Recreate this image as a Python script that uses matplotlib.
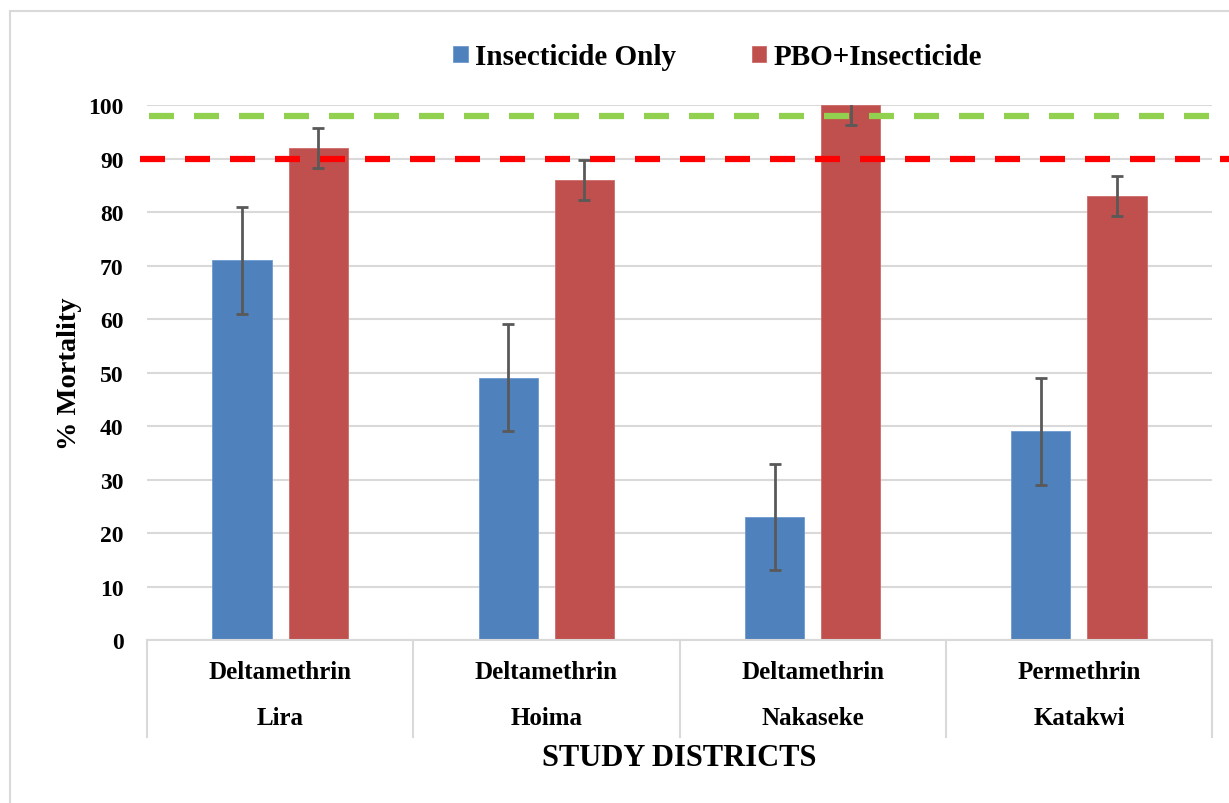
import matplotlib.pyplot as plt
from matplotlib.patches import Rectangle
import matplotlib.transforms as mtransforms
import numpy as np

plt.rcParams['font.family'] = ['Liberation Serif', 'DejaVu Serif']
plt.rcParams['font.weight'] = 'bold'

# Datos de mortalidad por distrito
insecticidas = ['Deltamethrin', 'Deltamethrin', 'Deltamethrin', 'Permethrin']
distritos = ['Lira', 'Hoima', 'Nakaseke', 'Katakwi']
solo_insecticida = [71, 49, 23, 39]
solo_insecticida_err = [10, 10, 10, 10]
pbo_insecticida = [92, 86, 100, 83]
pbo_insecticida_err = [3.8, 3.8, 3.8, 3.8]
umbral_verde = 98
umbral_rojo = 90

azul = '#4F81BD'
rojo = '#C0504D'
gris = '#D9D9D9'

fig = plt.figure(figsize=(12.29, 8.04), dpi=100)
ax = fig.add_axes([0.1196, 0.2027, 0.8666, 0.6653])

# Marco exterior
fig.patches.append(Rectangle((10 / 1229, -0.05), 1.1, 1 - 12 / 804 + 0.05,
                             transform=fig.transFigure, fill=False,
                             edgecolor=gris, linewidth=1.5))

x = np.arange(len(distritos))
ancho = 0.222
desp = 0.143

ax.yaxis.grid(True, color=gris, linewidth=1.5, zorder=0)
ax.set_axisbelow(True)

ax.bar(x - desp, solo_insecticida, ancho, color=azul, edgecolor='#6F9AD0',
       linewidth=0.6, label='Insecticide Only', zorder=2)
ax.bar(x + desp, pbo_insecticida, ancho, color=rojo, edgecolor='#CC6B68',
       linewidth=0.6, label='PBO+Insecticide', zorder=2)

err_kw = dict(fmt='none', ecolor='#595959', elinewidth=2, capsize=4,
              capthick=2, zorder=3)
ax.errorbar(x - desp, solo_insecticida, yerr=solo_insecticida_err, **err_kw)
ax.errorbar(x + desp, pbo_insecticida, yerr=pbo_insecticida_err, **err_kw)

# Líneas de umbral (98% y 90%)
trans_h = mtransforms.blended_transform_factory(ax.transAxes, ax.transData)
ax.plot([0.002, 1.03], [umbral_verde, umbral_verde], transform=trans_h,
        color='#92D050', linewidth=4.5, dashes=(4.0, 3.2), clip_on=False, zorder=4)
ax.plot([-0.007, 1.03], [umbral_rojo, umbral_rojo], transform=trans_h,
        color='#FF0000', linewidth=4.5, dashes=(4.0, 3.2), clip_on=False, zorder=4)

ax.set_xlim(-0.5, 3.5)
ax.set_ylim(0, 100)
ax.set_yticks(range(0, 101, 10))
ax.tick_params(axis='y', length=0, labelsize=17, pad=17)
ax.tick_params(axis='x', length=0, labelbottom=False)
for lab in ax.get_yticklabels():
    lab.set_fontweight('bold')

for s in ['top', 'right', 'left']:
    ax.spines[s].set_visible(False)
ax.spines['bottom'].set_color(gris)
ax.spines['bottom'].set_linewidth(1.5)

# Etiquetas de categoría en dos niveles con separadores
trans_v = mtransforms.blended_transform_factory(ax.transData, ax.transAxes)
for b in np.arange(-0.5, 4, 1):
    ax.plot([b, b], [0, -0.181], transform=trans_v, color=gris,
            linewidth=1.5, clip_on=False)
for i in range(len(distritos)):
    ax.text(i, -0.058, insecticidas[i], transform=trans_v, ha='center',
            va='center', fontsize=18, fontweight='bold')
    ax.text(i, -0.144, distritos[i], transform=trans_v, ha='center',
            va='center', fontsize=18, fontweight='bold')

ax.text(0.5, -0.219, 'STUDY DISTRICTS', transform=ax.transAxes, ha='center',
        va='center', fontsize=22, fontweight='bold')
ax.set_ylabel('% Mortality', fontsize=20.5, fontweight='bold')
ax.yaxis.set_label_coords(-0.061, 0.5)

fig.legend(loc='center', bbox_to_anchor=(0.584, 0.928), ncol=2, frameon=False,
           handlelength=0.5, handleheight=0.5, columnspacing=2.6,
           handletextpad=0.25, prop={'weight': 'bold', 'size': 21})

fig.savefig('out.png', dpi=100)
